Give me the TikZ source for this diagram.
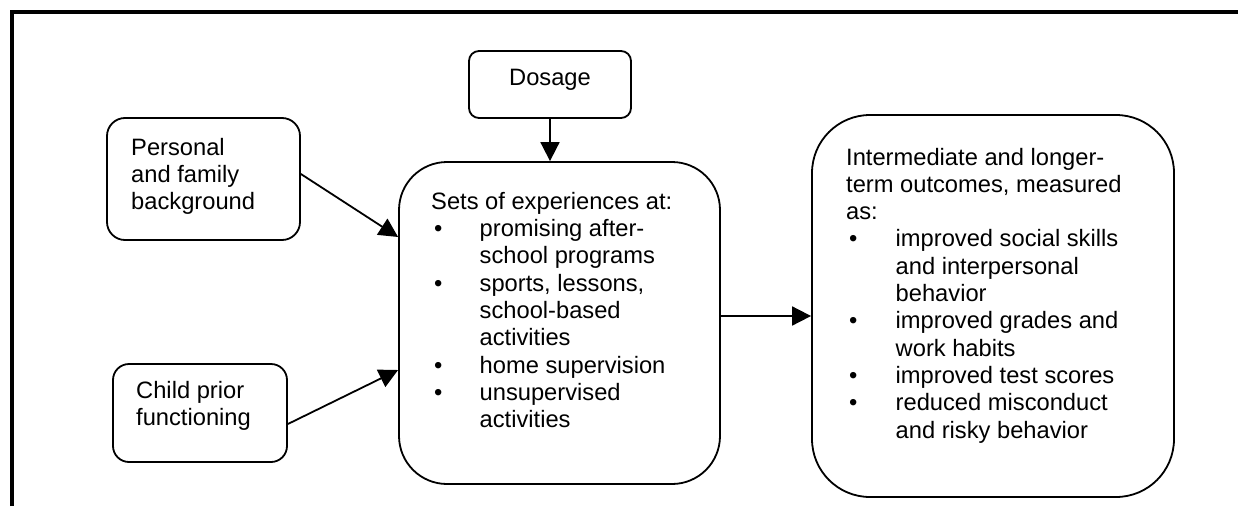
\documentclass[tikz,border=0pt]{standalone}
\usepackage{fontspec}
\setmainfont{Liberation Sans}
\usetikzlibrary{arrows.meta}
\newcommand\bxfont{\fontsize{23.7}{27.3}\selectfont}
\newcommand\blt[1]{\makebox[#1][l]{\hspace*{3pt}\textbullet}}
\begin{document}
\begin{tikzpicture}[x=1pt,y=-1pt,
  box/.style={draw,line width=1.8pt,inner sep=0pt,rectangle},
  txt/.style={anchor=base west,inner sep=0pt,font=\bxfont},
  arr/.style={line width=1.8pt,-{Triangle[length=19pt,width=19pt]}}]
\useasboundingbox (0,0) rectangle (1238,506);
% frame
\draw[line width=4pt] (11.5,506) -- (11.5,12) -- (1238,12);
% boxes
\node[box,rounded corners=10pt,minimum width=162pt,minimum height=67pt] (dosage) at (550,84.5) {};
\node[box,rounded corners=18pt,minimum width=193pt,minimum height=122pt] (personal) at (203.5,179) {};
\node[box,rounded corners=16pt,minimum width=174pt,minimum height=98pt] (child) at (200,413) {};
\node[box,rounded corners=48pt,minimum width=321pt,minimum height=322pt] (middle) at (559.5,323) {};
\node[box,rounded corners=58pt,minimum width=362pt,minimum height=382pt] (right) at (993,306) {};
% texts
\node[anchor=base,inner sep=0pt,font=\bxfont] (tdosage) at (550,85) {Dosage};
\node[txt] (tpersonal) at (131,155) {\parbox[t]{160pt}{\bxfont\raggedright
Personal\\and family\\background}};
\node[txt] (tchild) at (136,398) {\parbox[t]{160pt}{\bxfont\raggedright
Child prior\\functioning}};
\node[txt] (tmiddle) at (431,209.3) {\parbox[t]{290pt}{\bxfont\raggedright
Sets of experiences at:\\
\blt{48.5pt}promising after-\\
\hspace*{48.5pt}school programs\\
\blt{48.5pt}sports, lessons,\\
\hspace*{48.5pt}school-based\\
\hspace*{48.5pt}activities\\
\blt{48.5pt}home supervision\\
\blt{48.5pt}unsupervised\\
\hspace*{48.5pt}activities}};
\node[txt] (tright) at (846,165) {\parbox[t]{330pt}{\bxfont\raggedright
Intermediate and longer-\\
term outcomes, measured\\
as:\\
\blt{49.5pt}improved social skills\\
\hspace*{49.5pt}and interpersonal\\
\hspace*{49.5pt}behavior\\
\blt{49.5pt}improved grades and\\
\hspace*{49.5pt}work habits\\
\blt{49.5pt}improved test scores\\
\blt{49.5pt}reduced misconduct\\
\hspace*{49.5pt}and risky behavior}};
% connectors
\draw[arr] (dosage.south) -- (dosage.south |- middle.north);
\draw[arr] ([yshift=5pt]personal.east) -- ([yshift=86pt]middle.west);
\draw[arr] ([yshift=-11pt]child.east) -- ([yshift=-47pt]middle.west);
\draw[arr] ([yshift=7pt]middle.east) -- ([yshift=7pt]middle.east -| right.west);
\end{tikzpicture}
\end{document}
